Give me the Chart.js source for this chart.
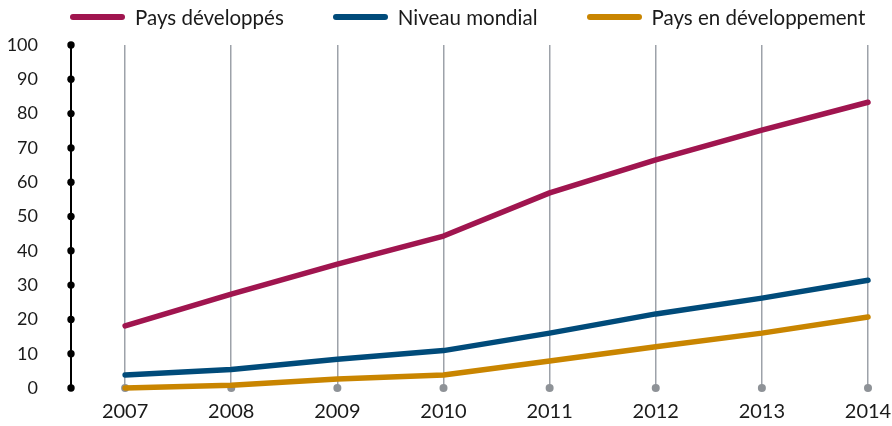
<!DOCTYPE html>
<html>
<head>
<meta charset="utf-8">
<script src="https://cdn.jsdelivr.net/npm/chart.js@4.4.1/dist/chart.umd.min.js"></script>
<style>
  html, body { margin: 0; padding: 0; background: #fff; }
  #wrap { position: relative; width: 892px; height: 426px; }
  #legend {
    position: absolute; left: 0; top: 4px; height: 26px; width: 892px;
    display: flex; align-items: center; padding-left: 70px; box-sizing: border-box;
    font-family: Lato, sans-serif; font-size: 20.5px; color: #1a1a1a; white-space: nowrap;
  }
  #legend .item { display: flex; align-items: center; margin-right: 49px; flex: none; }
  #legend .swatch { width: 55px; height: 6px; border-radius: 3px; margin-right: 10px; flex: none; }
</style>
</head>
<body>
<div id="wrap">
  <canvas id="myChart"></canvas>
  <div id="legend"></div>
</div>
<script>
// years on the x axis
const years = [2007, 2008, 2009, 2010, 2011, 2012, 2013, 2014];
// series
const paysDeveloppes = [18.1, 27.4, 36.1, 44.3, 56.9, 66.5, 75.2, 83.3];
const niveauMondial = [3.8, 5.4, 8.4, 10.9, 16.0, 21.6, 26.2, 31.4];
const paysEnDeveloppement = [0.0, 0.8, 2.6, 3.8, 7.9, 12.0, 16.0, 20.7];
const yTicks = [0, 10, 20, 30, 40, 50, 60, 70, 80, 90, 100];

const toPoints = (vals) => years.map((y, i) => ({ x: y, y: vals[i] }));

const lineSet = (label, vals, color) => ({
  label: label,
  data: toPoints(vals),
  borderColor: color,
  backgroundColor: color,
  borderWidth: 5.5,
  borderCapStyle: "round",
  borderJoinStyle: "round",
  pointRadius: 0,
  pointHoverRadius: 0,
  tension: 0,
  fill: false,
  clip: false,
});

// dots on the y axis and at the foot of each grid line
const dotsPlugin = {
  id: "dots",
  beforeDatasetsDraw(chart) {
    const { ctx, scales } = chart;
    const y0 = scales.y.getPixelForValue(0);
    ctx.save();
    ctx.fillStyle = "#8e9297";
    years.forEach((yr) => {
      ctx.beginPath();
      ctx.arc(scales.x.getPixelForValue(yr), y0, 4, 0, Math.PI * 2);
      ctx.fill();
    });
    ctx.restore();
  },
  afterDraw(chart) {
    const { ctx, scales } = chart;
    const x0 = scales.x.getPixelForValue(scales.x.min);
    ctx.save();
    ctx.fillStyle = "#000";
    yTicks.forEach((v) => {
      ctx.beginPath();
      ctx.arc(x0, scales.y.getPixelForValue(v), 3.7, 0, Math.PI * 2);
      ctx.fill();
    });
    ctx.restore();
  },
};

const ctx = document.getElementById("myChart").getContext("2d");
const myChart = new Chart(ctx, {
  type: "line",
  data: {
    datasets: [
      lineSet("Pays développés", paysDeveloppes, "#a0154f"),
      lineSet("Niveau mondial", niveauMondial, "#004b7a"),
      lineSet("Pays en développement", paysEnDeveloppement, "#c98500"),
    ],
  },
  options: {
    responsive: true,
    maintainAspectRatio: false,
    animation: false,
    layout: { padding: { left: 7, right: 4, top: 45, bottom: 0 } },
    plugins: {
      tooltip: { enabled: false },
      legend: { display: false },
    },
    scales: {
      x: {
        type: "linear",
        min: 2006.49,
        max: 2014,
        afterBuildTicks: (s) => { s.ticks = years.map((v) => ({ value: v })); },
        afterFit: (s) => { s.height = 38; s.paddingRight = 24; },
        grid: { display: true, color: "#9da2a9", lineWidth: 1.5, drawTicks: false },
        border: { display: false },
        ticks: {
          padding: 12,
          color: "#1a1a1a",
          font: { family: "Lato", size: 20 },
          callback: (v) => String(v),
        },
      },
      y: {
        min: 0,
        max: 100,
        afterBuildTicks: (s) => { s.ticks = yTicks.map((v) => ({ value: v })); },
        afterFit: (s) => { s.width = 64; s.paddingTop = 0; s.paddingBottom = 0; },
        grid: { display: false, drawTicks: false },
        border: { display: true, color: "#000", width: 2 },
        ticks: {
          padding: 33,
          color: "#1a1a1a",
          font: { family: "Lato", size: 18 },
        },
      },
    },
  },
  plugins: [dotsPlugin],
});

// legend built from the datasets
const legendEl = document.getElementById("legend");
myChart.data.datasets.forEach((ds) => {
  const item = document.createElement("div");
  item.className = "item";
  const sw = document.createElement("span");
  sw.className = "swatch";
  sw.style.background = ds.borderColor;
  const txt = document.createElement("span");
  txt.textContent = ds.label;
  item.appendChild(sw);
  item.appendChild(txt);
  legendEl.appendChild(item);
});
</script>
</body>
</html>
